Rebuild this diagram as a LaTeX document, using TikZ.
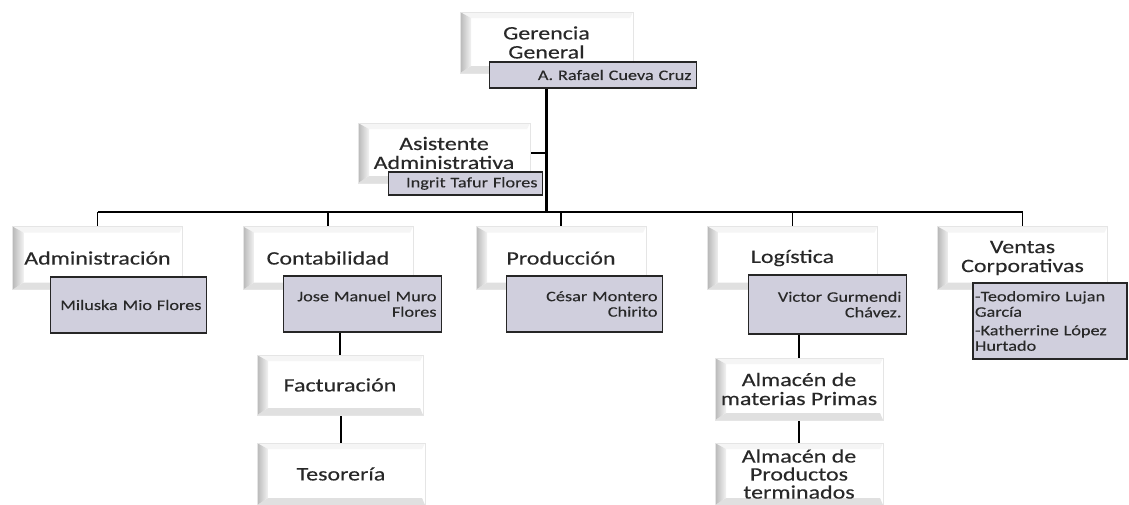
\documentclass[tikz,border=0pt]{standalone}
\usepackage{fontspec}
\setmainfont{Carlito}[FakeStretch=1.26, FakeBold=0.25]
\usepackage{tikz}
\usetikzlibrary{positioning,calc,backgrounds}
\definecolor{namefill}{RGB}{208,207,221}
\definecolor{inkgray}{RGB}{40,40,40}
\newcommand{\deptfont}{\fontsize{19}{19}\selectfont}
\newcommand{\namefont}{\fontsize{14.5}{15.5}\selectfont}
\tikzset{
  dept/.style={rectangle, draw=black!10, fill=white, minimum width=170pt, minimum height=63pt,
    align=center, text=inkgray, font=\deptfont, inner sep=2pt,
    path picture={
      \fill[black!4] (path picture bounding box.north west) -- ++(11pt,-6pt)
        -- ($(path picture bounding box.north east)+(-3pt,-6pt)$) -- (path picture bounding box.north east) -- cycle;
      \fill[black!12] (path picture bounding box.south west) -- ++(11pt,7pt)
        -- ($(path picture bounding box.south east)+(-3pt,7pt)$) -- (path picture bounding box.south east) -- cycle;
      \shade[left color=black!28, right color=black!5] (path picture bounding box.north west) -- ++(11pt,-6pt)
        -- ($(path picture bounding box.south west)+(11pt,7pt)$) -- (path picture bounding box.south west) -- cycle;
    }},
  person/.style={rectangle, draw=black!85, line width=1.5pt, fill=namefill, text=inkgray,
    font=\namefont, align=right, inner xsep=5pt, inner ysep=2pt},
  link/.style={draw=black, line width=1.5pt},
  trunk/.style={link, line width=2.8pt},
}

\begin{document}
\begin{tikzpicture}[x=1pt, y=-1pt]
    \useasboundingbox (0,0) rectangle (1129,504);

    % top
    \node[dept, minimum width=173pt, minimum height=61pt] (gerencia) at (546.5,42.5) {Gerencia\\General};
    \node[person, text width=197pt, minimum height=26pt] (rafael) at (593,75) {A. Rafael Cueva Cruz};
    \node[dept, minimum width=172pt, minimum height=60pt] (asistente) at (444,153) {Asistente\\Administrativa};
    \node[person, text width=144pt, minimum height=23pt] (ingrit) at (465.5,183.5) {Ingrit Tafur Flores};

    % departments
    \node[dept] (admin)  at (97.5,258)  {Administración};
    \node[dept] (conta)  at (328,258)   {Contabilidad};
    \node[dept] (produc) at (561,258)   {Producción};
    \node[dept] (logis)  at (792.5,258) {Logística};
    \node[dept] (ventas) at (1022.5,258) {Ventas\\Corporativas};

    \node[person, text width=146pt, minimum height=56pt] (miluska) at (128.5,305) {Miluska Mio Flores};
    \node[person, text width=148pt, minimum height=56pt] (jose)    at (362.5,304) {Jose Manuel Muro\\Flores};
    \node[person, text width=146pt, minimum height=56pt] (cesar)   at (584.5,304) {César Montero\\Chirito};
    \node[person, text width=148pt, minimum height=59pt] (victor)  at (827.5,304.5) {Victor Gurmendi\\Chávez.};
    \node[person, text width=150pt, minimum height=76pt, align=left, inner xsep=2pt] (vendedores) at (1050,321)
      {-Teodomiro Lujan\\García\\[3pt]-Katherrine López\\Hurtado};

    % sub areas
    \node[dept, minimum width=166pt, minimum height=60pt] (factur)    at (340,385) {Facturación};
    \node[dept, minimum width=168pt, minimum height=62pt] (tesor)     at (341,474) {Tesorería};
    \node[dept, minimum width=168pt, minimum height=62pt] (almacenmp) at (799,389) {Almacén de\\materias Primas};
    \node[dept, minimum width=168pt, minimum height=62pt, font=\fontsize{19}{18}\selectfont] (almacenpt) at (799,474)
      {Almacén de\\Productos\\terminados};

    % lines
    \begin{scope}[on background layer]
      \coordinate (bar) at (547,212);
      \draw[trunk] (gerencia.south) -- (gerencia.south |- bar);
      \draw[link] (asistente.east) -- (asistente.east -| gerencia.south);
      \draw[link] (admin.north |- bar) -- (ventas.north |- bar);
      \foreach \d in {admin,conta,produc,logis,ventas}
        \draw[link] (\d.north) -- (\d.north |- bar);
      \draw[link] (jose.south -| factur.north) -- (factur.north);
      \draw[link] (tesor.north |- factur.south) -- (tesor.north);
      \draw[link] (victor.south -| almacenmp.north) -- (almacenmp.north);
      \draw[link] (almacenmp.south) -- (almacenpt.north);
    \end{scope}
  \end{tikzpicture}
\end{document}
